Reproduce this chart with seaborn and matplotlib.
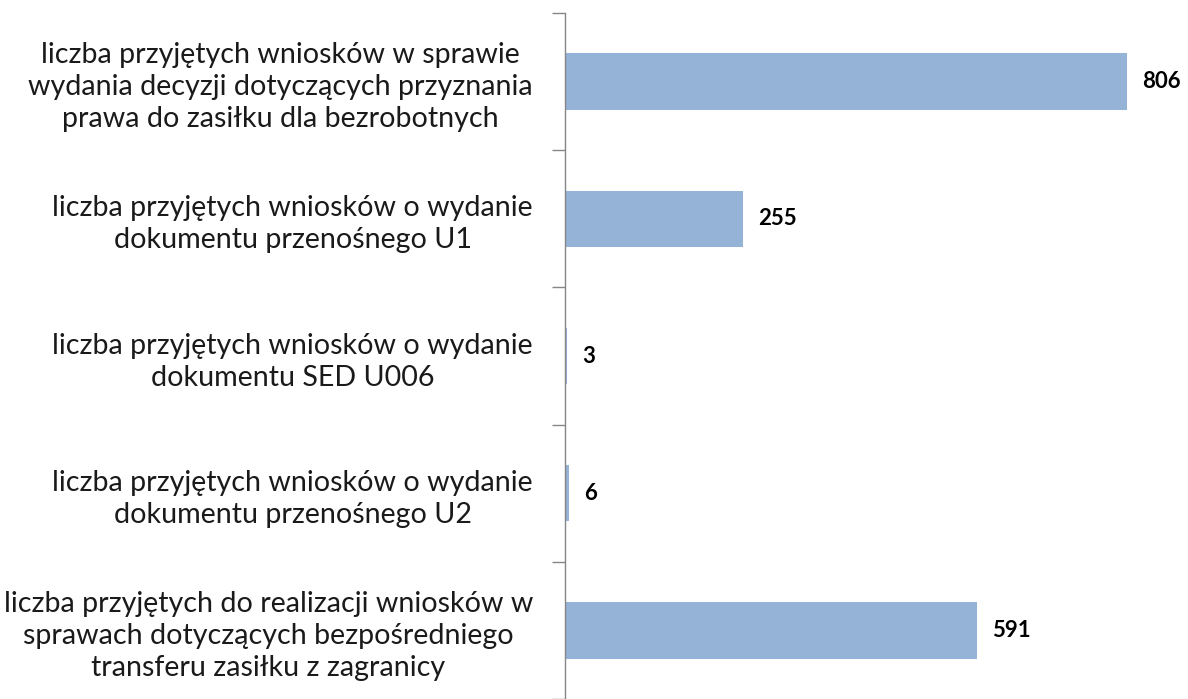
import matplotlib
matplotlib.use('Agg')
import matplotlib.pyplot as plt
import seaborn as sns
import numpy as np
import pandas as pd

categories = [
    'liczba przyjętych wniosków w sprawie\nwydania decyzji dotyczących przyznania\nprawa do zasiłku dla bezrobotnych',
    'liczba przyjętych wniosków o wydanie\ndokumentu przenośnego U1',
    'liczba przyjętych wniosków o wydanie\ndokumentu SED U006',
    'liczba przyjętych wniosków o wydanie\ndokumentu przenośnego U2',
    'liczba przyjętych do realizacji wniosków w\nsprawach dotyczących bezpośredniego\ntransferu zasiłku z zagranicy',
]
values = [806, 255, 3, 6, 591]

sns.set_style('white')
plt.rcParams['font.family'] = ['Lato', 'DejaVu Sans']

df = pd.DataFrame({'kategoria': categories, 'liczba': values})

fig = plt.figure(figsize=(11.88, 6.99), dpi=100)
ax = fig.add_axes([565 / 1188, 0, 627 / 1188, 686 / 699])

sns.barplot(data=df, x='liczba', y='kategoria', orient='h', color='#95B3D7',
            width=0.41, saturation=1, edgecolor='none', ax=ax)

ax.set_xlim(0, 900)
ax.set_ylim(-0.5 + 686 / 138, -0.5)

for s in ['top', 'right', 'bottom']:
    ax.spines[s].set_visible(False)
ax.spines['left'].set_color('#868686')
ax.spines['left'].set_linewidth(1.0)

ax.set_xticks([])
ax.set_xlabel('')
ax.set_ylabel('')

# category labels sit between boundary ticks
ax.tick_params(axis='y', which='major', left=False, length=0, pad=23,
               labelsize=20.6, labelcolor='#1a1a1a')
for t in ax.get_yticklabels():
    t.set_multialignment('center')
    t.set_linespacing(1.29)
ax.set_yticks(np.arange(-0.5, len(categories), 1.0), minor=True)
ax.tick_params(axis='y', which='minor', left=True, length=9.5, width=1.0,
               color='#868686', direction='out')

ax.bar_label(ax.containers[0], labels=[str(v) for v in values], padding=11,
             fontsize=16, fontweight='bold', color='black')

fig.savefig('out.png', dpi=100)
